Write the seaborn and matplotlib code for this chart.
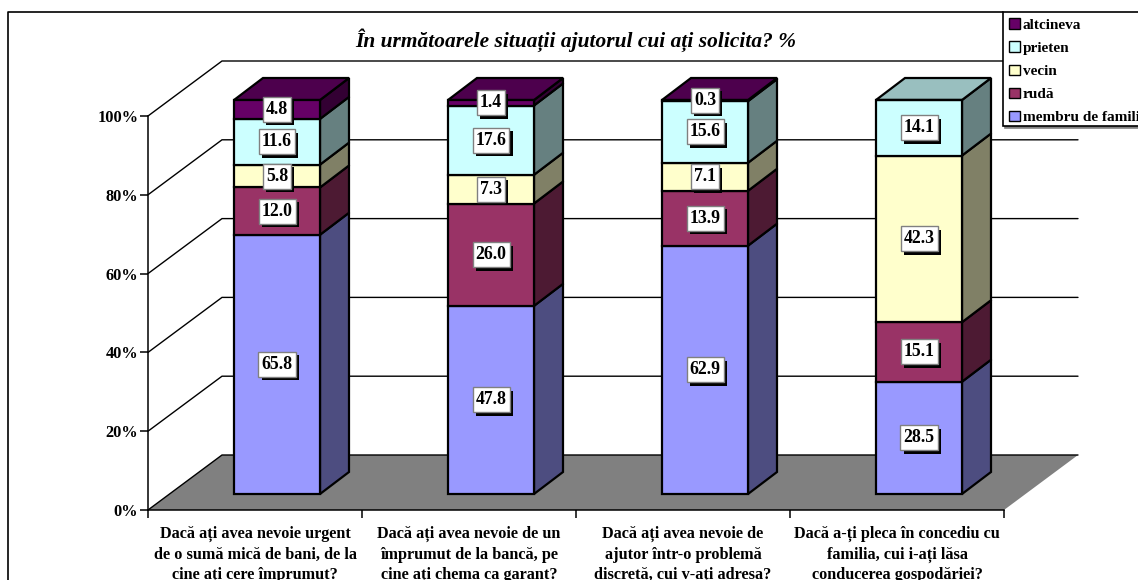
import numpy as np
import pandas as pd
import matplotlib
matplotlib.use('Agg')
import matplotlib.pyplot as plt
import matplotlib.patheffects as pe
from matplotlib.patches import Patch, Polygon
from matplotlib.path import Path
import seaborn as sns

questions = [
    'Dacă ați avea nevoie urgent\nde o sumă mică de bani, de la\ncine ați cere împrumut?',
    'Dacă ați avea nevoie de un\nîmprumut de la bancă, pe\ncine ați chema ca garant?',
    'Dacă ați avea nevoie de\najutor într-o problemă\ndiscretă, cui v-ați adresa?',
    'Dacă a-ți pleca în concediu cu\nfamilia, cui i-ați lăsa\nconducerea gospodăriei?',
]
series_names = ['membru de familie', 'rudă', 'vecin', 'prieten', 'altcineva']
membru = [65.8, 47.8, 62.9, 28.5]
ruda = [12.0, 26.0, 13.9, 15.1]
vecin = [5.8, 7.3, 7.1, 42.3]
prieten = [11.6, 17.6, 15.6, 14.1]
altcineva = [4.8, 1.4, 0.3, 0.0]
front_colors = ['#9999ff', '#993366', '#ffffcc', '#ccffff', '#660066']
side_colors = ['#4d4d80', '#4d1a33', '#808066', '#668080', '#330033']
top_colors = ['#7373bf', '#73264d', '#bfbf99', '#99bfbf', '#4d004d']

FIG_W, FIG_H = 1138, 580
PX_PER_CAT = 214
PX_PER_PCT = 3.94
BAR_W = 86 / PX_PER_CAT

table = pd.DataFrame(dict(zip(series_names, [membru, ruda, vecin, prieten, altcineva])), index=questions)
# 100% stacked, the published numbers do not always add up to exactly 100
shares = table.div(table.sum(axis=1), axis=0) * 100

sns.set_theme(style='white')
plt.rcParams['font.family'] = ['Liberation Serif', 'DejaVu Serif']
plt.rcParams['font.weight'] = 'bold'
plt.rcParams['text.color'] = 'black'
plt.rcParams['xtick.color'] = 'black'
plt.rcParams['ytick.color'] = 'black'

fig = plt.figure(figsize=(FIG_W / 100, FIG_H / 100), dpi=100)
ax = fig.add_axes([0, 0, 1, 1])


def dx(px):
    return px / PX_PER_CAT


def dy(px):
    return px / PX_PER_PCT


def label_box(x0, y0, width, height, mutation_size):
    # narrow at the sides, tall above and below, like the excel data labels
    x0, x1 = x0 - 3, x0 + width + 3
    y0, y1 = y0 - 4, y0 + height + 4
    return Path([(x0, y0), (x1, y0), (x1, y1), (x0, y1), (x0, y0)], closed=True)


def legend_box(x0, y0, width, height, mutation_size):
    # legend frame sits closer to the last row than to the first
    x1, y1 = x0 + width, y0 + height
    y0 = y0 + 5
    return Path([(x0, y0), (x1, y0), (x1, y1), (x0, y1), (x0, y0)], closed=True)


# bars live in this axes: x = category, y = percent, zero at the foot of the bars
bottoms = np.zeros(len(questions))
for name, front in zip(series_names, front_colors):
    sns.barplot(x=list(range(len(questions))), y=shares[name].to_numpy(), bottom=bottoms, color=front,
                saturation=1, width=BAR_W, edgecolor='black', linewidth=1.6, zorder=5, ax=ax)
    bottoms = bottoms + shares[name].to_numpy()

ax.set_xlim(-277 / PX_PER_CAT, (FIG_W - 277) / PX_PER_CAT)
ax.set_ylim(-(FIG_H - 494) / PX_PER_PCT, 494 / PX_PER_PCT)
ax.axis('off')

# floor and back wall of the 3d box
front_left = -129 / PX_PER_CAT
front_right = front_left + 4
front_zero = dy(-16)
wall_dx, wall_dy = dx(74), dy(55)
floor = Polygon([(front_left, front_zero), (front_right, front_zero),
                 (front_right + wall_dx, front_zero + wall_dy), (front_left + wall_dx, front_zero + wall_dy)],
                closed=True, facecolor='#808080', edgecolor='none', zorder=1)
ax.add_patch(floor)
for pct in range(0, 101, 20):
    y = front_zero + pct
    ax.plot([front_left, front_left + wall_dx, front_right + wall_dx], [y, y + wall_dy, y + wall_dy],
            color='black', lw=1.0, zorder=2, solid_joinstyle='miter')

# side and top faces of the bars
depth_x, depth_y = dx(29), dy(22)
for i in range(len(questions)):
    left = i - BAR_W / 2
    right = i + BAR_W / 2
    base = 0.0
    last = None
    for name, side, top in zip(series_names, side_colors, top_colors):
        value = shares[name].iloc[i]
        if value <= 0:
            continue
        ax.add_patch(Polygon([(right, base), (right + depth_x, base + depth_y),
                              (right + depth_x, base + value + depth_y), (right, base + value)],
                             closed=True, facecolor=side, edgecolor='black', lw=1.6, zorder=4))
        base += value
        last = top
    ax.add_patch(Polygon([(left, base), (left + depth_x, base + depth_y),
                          (right + depth_x, base + depth_y), (right, base)],
                         closed=True, facecolor=last, edgecolor='black', lw=1.6, zorder=4))

# value labels, box with a hard black shadow
for i in range(len(questions)):
    base = 0.0
    for name in series_names:
        value = table[name].iloc[i]
        height = shares[name].iloc[i]
        if value > 0:
            t = ax.annotate(f'{value:.1f}', (i, base + height / 2), ha='center', va='center', fontsize=12.8,
                            color='black', zorder=9, bbox=dict(boxstyle=label_box, fc='white', ec='#808080', lw=1))
            t.get_bbox_patch().set_path_effects([
                pe.SimplePatchShadow(offset=(2.4, -2.4), shadow_rgbFace='black', alpha=1), pe.Normal()])
        base += height

# front axis in its own transparent axes so ticks are real ticks
ax_front = fig.add_axes([148 / FIG_W, (FIG_H - 510) / FIG_H, 856 / FIG_W, 394 / FIG_H], facecolor='none')
ax_front.set_xlim(0, 4)
ax_front.set_ylim(0, 100)
for side in ['top', 'right']:
    ax_front.spines[side].set_visible(False)
for side in ['left', 'bottom']:
    ax_front.spines[side].set_linewidth(1.1)
    ax_front.spines[side].set_color('black')
ax_front.set_yticks(range(0, 101, 20))
ax_front.set_yticklabels([f'{p}%' for p in range(0, 101, 20)], fontsize=11.8, fontweight='bold')
ax_front.set_xticks(range(5))
ax_front.set_xticklabels([])
ax_front.set_xticks(np.arange(4) + 0.5, minor=True)
ax_front.set_xticklabels(questions, minor=True, fontsize=11.7, fontweight='bold', linespacing=1.36)
ax_front.tick_params(axis='both', which='major', length=5.6, width=1.1, color='black', left=True, bottom=True, pad=1.5)
ax_front.tick_params(axis='x', which='minor', length=0, pad=11.5)
ax_front.patch.set_alpha(0)

fig.text(576 / FIG_W, 1 - 40 / FIG_H, 'În următoarele situații ajutorul cui ați solicita? %', ha='center', va='center',
         fontsize=15.4, fontweight='bold', fontstyle='italic', color='black')

# chart border
fig.add_artist(plt.Line2D([8 / FIG_W, 8 / FIG_W, 1003 / FIG_W], [0, 1 - 12 / FIG_H, 1 - 12 / FIG_H],
                          color='black', lw=1.2))

handles = [Patch(facecolor=c, edgecolor='black', lw=1, label=n)
           for n, c in zip(series_names[::-1], front_colors[::-1])]
leg = fig.legend(handles=handles, loc='upper left', bbox_to_anchor=(1003 / FIG_W, 1 - 12 / FIG_H), fontsize=11,
                 frameon=True, fancybox=False, framealpha=1, edgecolor='black', borderpad=0.42, labelspacing=0.62,
                 handlelength=0.68, handleheight=0.68, handletextpad=0.2, borderaxespad=0,
                 shadow=dict(color='#808080', alpha=1, ox=1.5, oy=-1.5))
leg.get_frame().set_linewidth(1.2)
leg.get_frame().set_boxstyle(legend_box)
leg.set_zorder(20)

fig.savefig('out.png', dpi=100)
